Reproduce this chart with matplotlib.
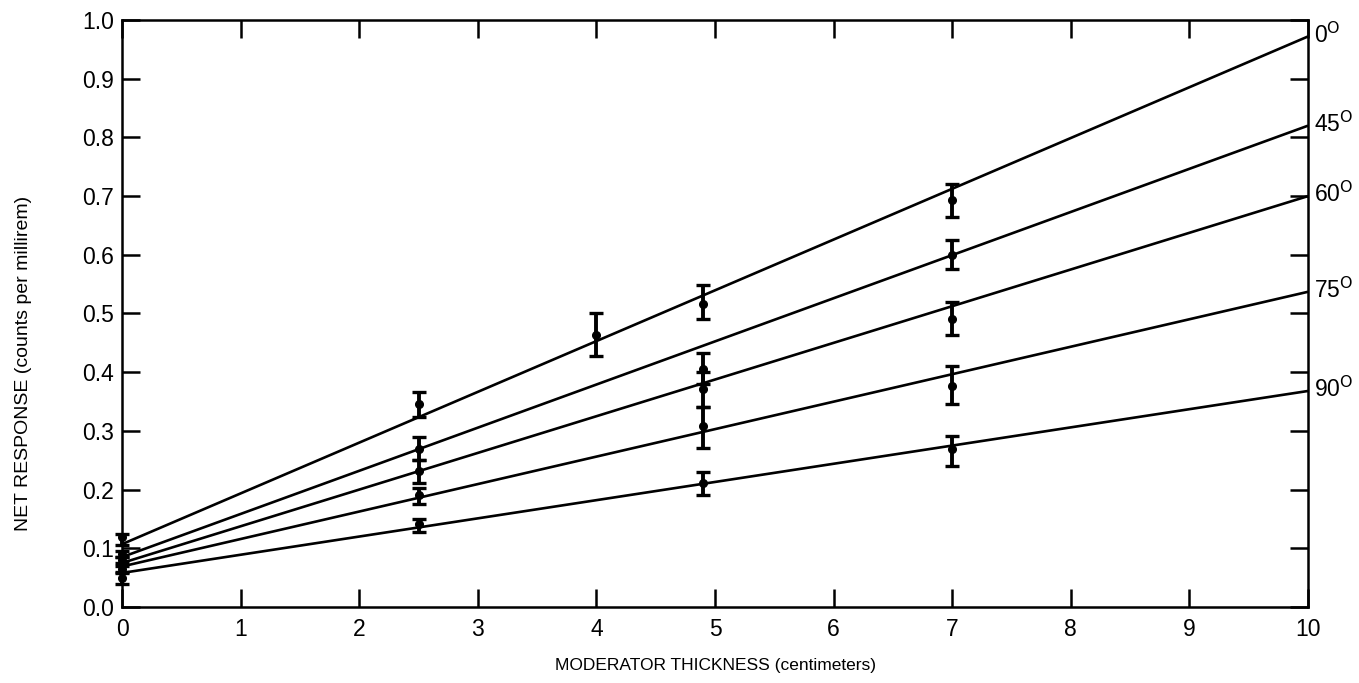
import matplotlib
matplotlib.use("Agg")
import matplotlib.pyplot as plt
import numpy as np

plt.rcParams['font.family'] = ['Liberation Sans', 'DejaVu Sans']

# Incidence angles (degrees) for each detector orientation
angles = ["0", "45", "60", "75", "90"]

# Fitted straight lines: response at 0 cm and at 10 cm
fit_at_0 = [0.107, 0.085, 0.075, 0.069, 0.058]
fit_at_10 = [0.972, 0.820, 0.700, 0.537, 0.368]

# Measured points (thickness in cm, net response, error-bar limits)
x_0 = [0.0, 2.5, 4.0, 4.9, 7.0]
y_0 = [0.120, 0.345, 0.464, 0.517, 0.693]
hi_0 = [0.125, 0.367, 0.500, 0.548, 0.720]
lo_0 = [0.105, 0.323, 0.428, 0.490, 0.665]

x_45 = [0.0, 2.5, 4.9, 7.0]
y_45 = [0.090, 0.270, 0.405, 0.600]
hi_45 = [0.095, 0.290, 0.432, 0.625]
lo_45 = [0.085, 0.250, 0.380, 0.575]

x_60 = [0.0, 2.5, 4.9, 7.0]
y_60 = [0.080, 0.232, 0.372, 0.490]
hi_60 = [0.085, 0.250, 0.400, 0.519]
lo_60 = [0.075, 0.212, 0.340, 0.464]

x_75 = [0.0, 2.5, 4.9, 7.0]
y_75 = [0.065, 0.190, 0.308, 0.377]
hi_75 = [0.070, 0.203, 0.340, 0.410]
lo_75 = [0.060, 0.176, 0.271, 0.345]

x_90 = [0.0, 2.5, 4.9, 7.0]
y_90 = [0.050, 0.142, 0.212, 0.270]
hi_90 = [0.058, 0.150, 0.230, 0.292]
lo_90 = [0.040, 0.128, 0.190, 0.240]

x_ticks = [0, 1, 2, 3, 4, 5, 6, 7, 8, 9, 10]
y_ticks = [0.0, 0.1, 0.2, 0.3, 0.4, 0.5, 0.6, 0.7, 0.8, 0.9, 1.0]

series = [
    (x_0, y_0, hi_0, lo_0),
    (x_45, y_45, hi_45, lo_45),
    (x_60, y_60, hi_60, lo_60),
    (x_75, y_75, hi_75, lo_75),
    (x_90, y_90, hi_90, lo_90),
]

fig = plt.figure(figsize=(13.59, 6.83), dpi=100)
ax = fig.add_axes([0.0898, 0.1113, 0.8727, 0.8594])

for a0, a10 in zip(fit_at_0, fit_at_10):
    ax.plot([0, 10], [a0, a10], color='black', lw=1.9, solid_capstyle='butt',
            clip_on=False, zorder=3)

for xs, ys, his, los in series:
    ys = np.array(ys)
    err = [ys - np.array(los), np.array(his) - ys]
    ax.errorbar(xs, ys, yerr=err, fmt='o', color='black', ms=5.5,
                elinewidth=2.8, capsize=5, capthick=2.4, clip_on=False, zorder=4)

for ang, a10 in zip(angles, fit_at_10):
    ax.annotate(ang + r"$^{\mathrm{O}}$", xy=(10, a10), xytext=(4, 1),
                textcoords='offset points', ha='left', va='center',
                fontsize=16.5, annotation_clip=False)

ax.set_xlim(0, 10)
ax.set_ylim(0, 1.0)
ax.set_xticks(x_ticks)
ax.set_yticks(y_ticks)
ax.set_xticklabels([str(t) for t in x_ticks])
ax.set_yticklabels([f"{t:.1f}" for t in y_ticks])
ax.tick_params(direction='in', length=13, width=1.8, labelsize=16.5,
               top=True, right=True)
ax.tick_params(axis='x', pad=8)
ax.tick_params(axis='y', pad=6)
for s in ax.spines.values():
    s.set_linewidth(1.8)

ax.set_xlabel("MODERATOR THICKNESS (centimeters)", fontsize=12.5)
ax.xaxis.set_label_coords(0.5, -0.099)
ax.xaxis.label.set_va('center')
ax.set_ylabel("NET RESPONSE (counts per millirem)", fontsize=14)
ax.yaxis.set_label_coords(-0.076, 0.415)

fig.savefig("out.png", dpi=100)
